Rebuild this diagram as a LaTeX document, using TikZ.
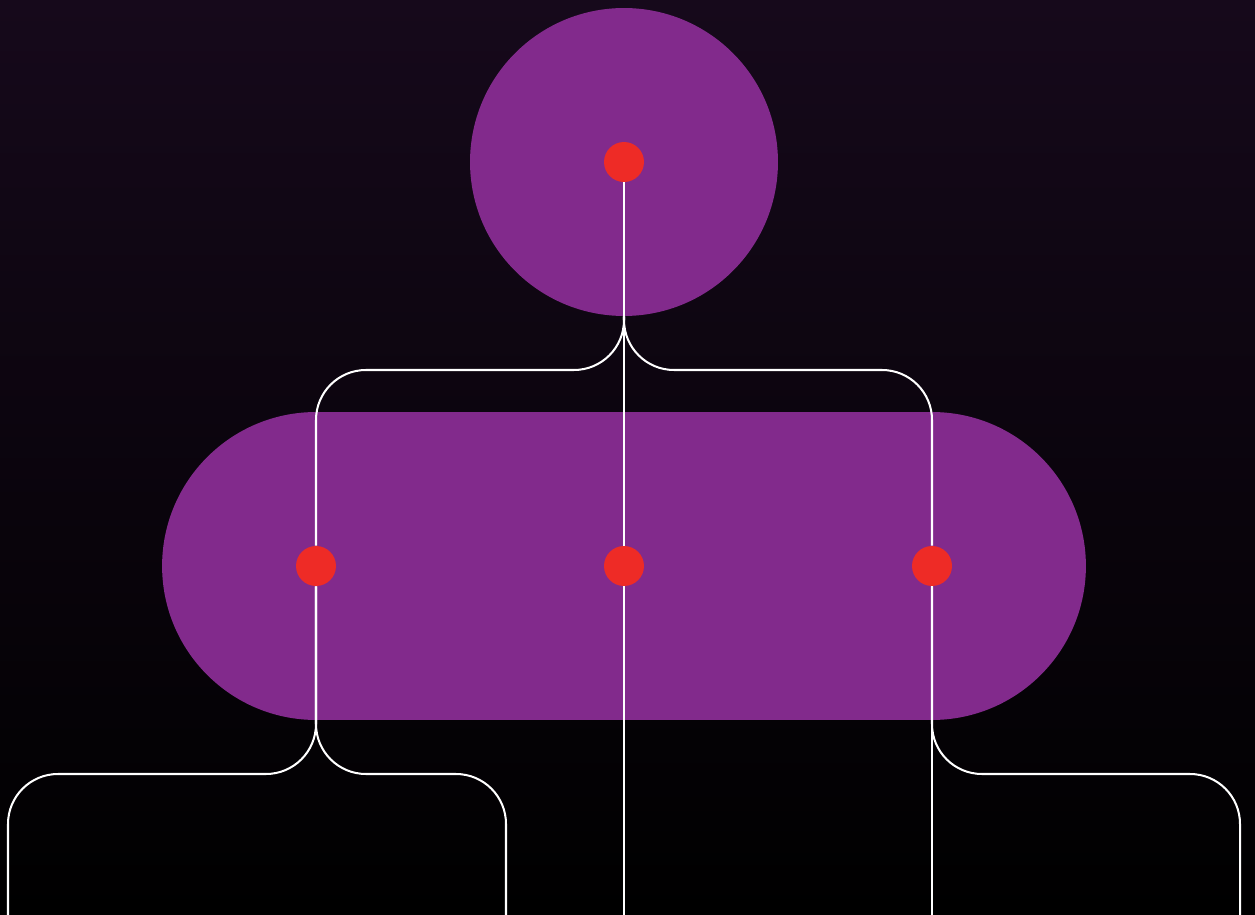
\documentclass[tikz,border=0pt]{standalone}
\usepackage{xcolor}
\usepackage{tikz}
\usetikzlibrary{arrows, positioning, shapes}

\definecolor{bgtop}{RGB}{22,9,27}
\definecolor{blob}{RGB}{130,42,140}
\definecolor{dotred}{RGB}{238,43,38}

\tikzset{
    dot/.style={circle, fill=dotred, inner sep=0pt, minimum size=0.8cm},
    wire/.style={white, line width=1.15pt, rounded corners=1cm}
}

\begin{document}
\begin{tikzpicture}[x=0.02cm, y=-0.02cm]
    % Fundal
    \shade[top color=bgtop, bottom color=black] (0,0) rectangle (1255,915);
    \useasboundingbox (0,0) rectangle (1255,915);

    % Forme
    \node[circle, fill=blob, inner sep=0pt, minimum size=6.16cm] (head) at (624,162) {};
    \node[rectangle, fill=blob, rounded corners=3.08cm, minimum width=18.48cm, minimum height=6.16cm] (body) at (624,566) {};

    % Noduri
    \node[dot] (top) at (624,162) {};
    \node[dot] (left) at (316,566) {};
    \node[dot] (mid) at (624,566) {};
    \node[dot] (right) at (932,566) {};

    \coordinate (fl) at (316,370);
    \coordinate (fr) at (932,370);
    \coordinate (kl) at (316,774);
    \coordinate (kr) at (932,774);
    \coordinate (b1) at (8,915);
    \coordinate (b2) at (506,915);
    \coordinate (b3) at (624,915);
    \coordinate (b4) at (932,915);
    \coordinate (b5) at (1240,915);

    % Muchii
    \draw[wire] (top) -- (mid) -- (b3);
    \draw[wire] (head.south) |- (fl) -- (left);
    \draw[wire] (head.south) |- (fr) -- (right);
    \draw[wire] (left) -- (kl) -| (b1);
    \draw[wire] (left) -- (kl) -| (b2);
    \draw[wire] (right) -- (b4);
    \draw[wire] (right) -- (kr) -| (b5);
\end{tikzpicture}
\end{document}
